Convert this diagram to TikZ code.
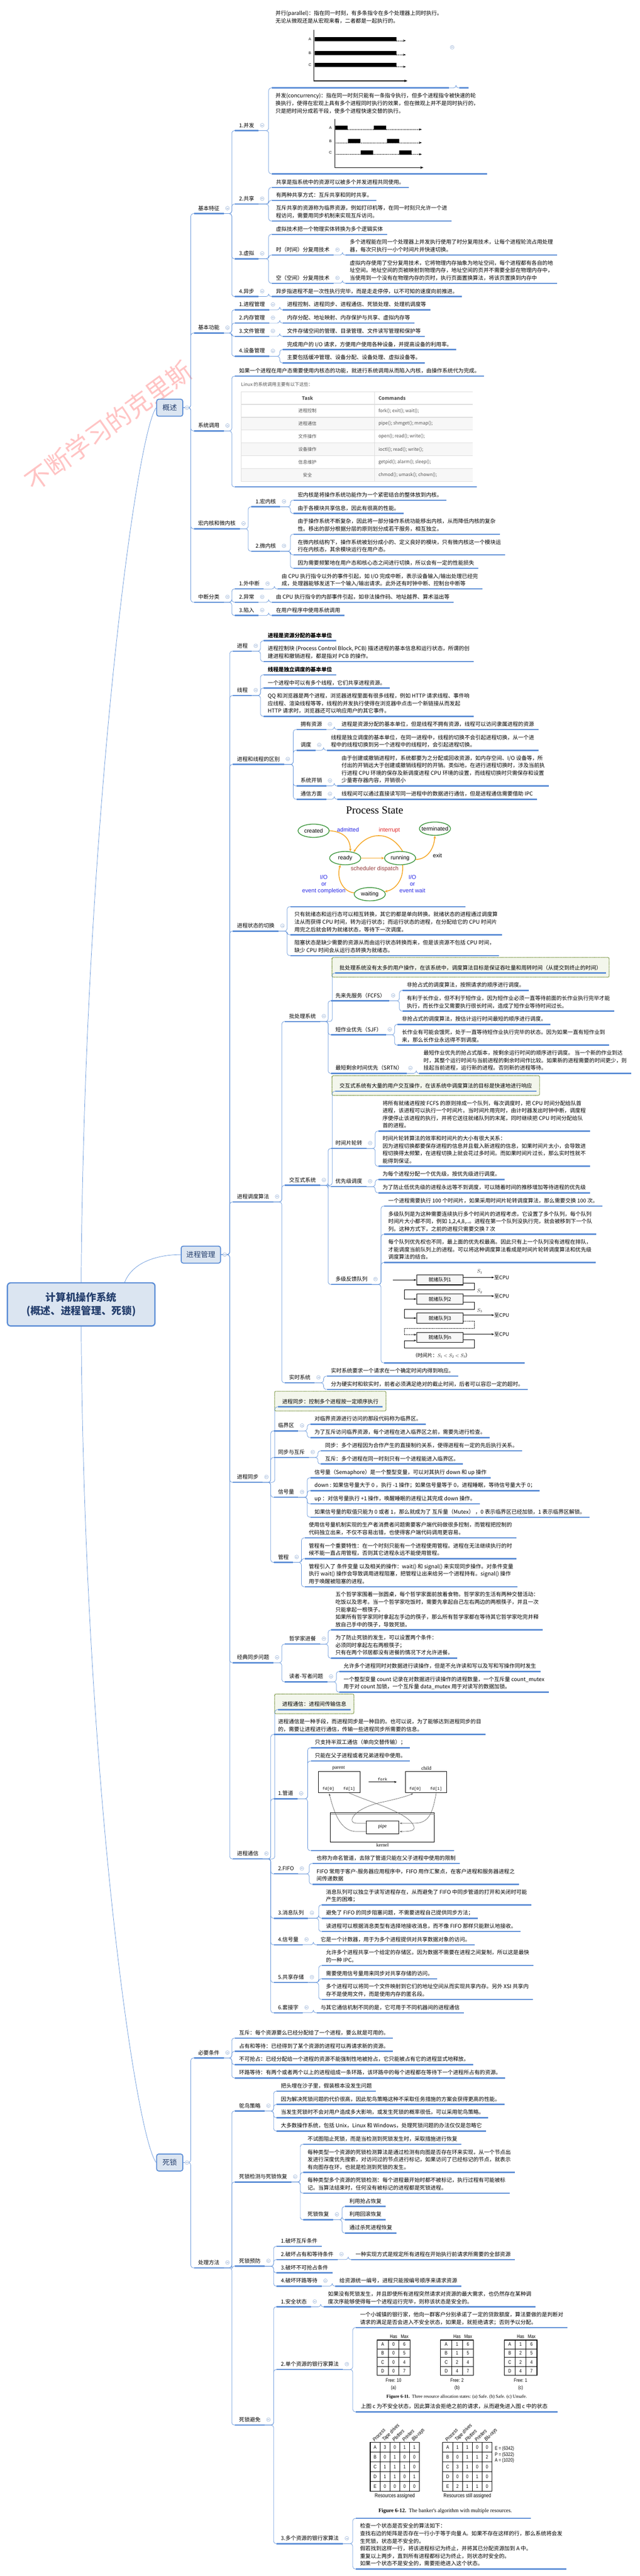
\documentclass[tikz,border=0pt]{standalone}
\usepackage{fontspec}
\setmainfont{Noto Sans CJK SC}
\newfontfamily\enserif{Liberation Serif}
\newfontfamily\ensans{Liberation Sans}
\newfontfamily\ensansn[FakeStretch=0.82]{Liberation Sans}
\newfontfamily\enmono{Liberation Mono}
\usetikzlibrary{positioning, arrows.meta, shapes.geometric, backgrounds}

\definecolor{ulc}{RGB}{91,141,214}
\definecolor{connc}{RGB}{96,146,218}
\definecolor{foldc}{RGB}{150,176,214}
\definecolor{boxfill}{RGB}{219,229,241}
\definecolor{boxtext}{RGB}{38,64,110}
\definecolor{dashc}{RGB}{118,146,60}
\definecolor{dashfill}{RGB}{243,246,236}
\definecolor{tabline}{RGB}{221,221,221}
\definecolor{tabfill}{RGB}{247,247,247}
\definecolor{tabtext}{RGB}{85,85,85}
\definecolor{stgreen}{RGB}{60,150,60}
\definecolor{storange}{RGB}{245,166,35}
\definecolor{psblue}{RGB}{40,40,230}
\definecolor{psred}{RGB}{225,40,40}
\definecolor{psbrown}{RGB}{150,60,60}
\definecolor{wmred}{RGB}{255,196,196}

\newcommand{\ml}[1]{\begin{tabular}[t]{@{}l@{}}#1\end{tabular}}

\tikzset{
  uline/.style={draw=ulc, line width=3.2pt}, % thick bar under every topic
  topic/.style={anchor=south west, inner xsep=10pt, inner ysep=2.5pt, font=\fontsize{12.9}{18.1}\selectfont},
  imgtopic/.style={topic, minimum width=#1*0.989pt, minimum height=24pt}, % topic holding a picture
  txt/.style={anchor=base west, inner sep=0pt, font=\fontsize{12.9}{18.1}\selectfont},
  conn/.style={draw=connc, line width=0.9pt, rounded corners=6pt},
  branch/.style={to path={(\tikztostart) -| ([xshift=-7.5pt]\tikztotarget) -- (\tikztotarget)}},
  fold/.style={circle, draw=foldc, line width=0.7pt, minimum size=9pt, inner sep=0pt, fill=white,
    path picture={\draw[foldc, line width=0.7pt] ([xshift=-2.5pt]path picture bounding box.center) -- ([xshift=2.5pt]path picture bounding box.center);}},
  mainbox/.style={draw=ulc, line width=2.2pt, fill=boxfill, rounded corners=5pt, minimum width=63pt,
    minimum height=41pt, text=boxtext, font=\fontsize{17.5}{20}\selectfont},
  rootbox/.style={draw=ulc, line width=3pt, fill=boxfill, rounded corners=8pt, minimum width=356pt,
    minimum height=104pt, text=boxtext, align=center, font=\fontsize{24.5}{32}\selectfont\bfseries},
  dashbox/.style={draw=dashc, line width=1.8pt, dash pattern=on 1.6pt off 1pt, fill=dashfill, rounded corners=3pt},
  watermark/.style={rotate=36, text=wmred, font=\fontsize{60}{60}\selectfont},
  axis/.style={line width=1.3pt},
  chartlbl/.style={inner sep=0pt, font=\ensans\fontsize{9}{9}\selectfont},
  tabcell/.style={inner sep=0pt, text=tabtext, font=\fontsize{11}{13}\selectfont},
  pstate/.style={ellipse, draw=stgreen, line width=1.8pt, minimum width=75pt, minimum height=32pt,
    inner sep=0pt, fill=white, font=\ensans\fontsize{13.6}{14}\selectfont},
  parrow/.style={draw=storange, line width=1.9pt, -{Stealth[length=7pt,width=6pt]}},
  pslbl/.style={inner sep=0pt, align=center, font=\ensans\fontsize{13.8}{16}\selectfont},
  qbox/.style={draw, line width=1.3pt, minimum width=112pt, minimum height=24pt, inner sep=0pt,
    fill=gray!6, font=\fontsize{12}{12}\selectfont},
  qarrow/.style={line width=0.9pt, -{Stealth[length=6pt,width=4.5pt]}},
  qlbl/.style={inner sep=0pt, font=\fontsize{12}{12}\selectfont},
  pbox/.style={draw, line width=1pt, inner sep=0pt},
  pline/.style={draw=black!65, line width=0.8pt},
  plbl/.style={inner sep=0pt, font=\enserif\fontsize{12}{12}\selectfont},
  fdlbl/.style={inner sep=0pt, font=\enmono\fontsize{9.5}{10}\selectfont},
  figlbl/.style={inner sep=0pt, font=\ensansn\fontsize{12}{12}\selectfont},
  fighd/.style={inner sep=0pt, anchor=west, rotate=45, font=\ensansn\itshape\fontsize{12.5}{12.5}\selectfont},
  figcap/.style={inner sep=0pt, font=\enserif\fontsize{11}{12}\selectfont},
}

\begin{document}
\begin{tikzpicture}[x=0.989pt, y=-1pt]
\useasboundingbox (0,0) rectangle (1560,6211);
\begin{scope}[on background layer]
  \fill[white] (0,0) rectangle (1560,6211);
\end{scope}
\node[watermark] (wm) at (265,1027) {不断学习的克里斯};

% root and the three branches
\node[rootbox] (root) at (198,3145) {计算机操作系统\\(概述、进程管理、死锁)};
\node[mainbox] (gs) at (414,983) {概述};
\node[mainbox, minimum width=95pt] (jc) at (490,3025) {进程管理};
\node[mainbox] (sl) at (414,5214) {死锁};

% ---------- 概述 ----------
\node[topic] (a1) at (473,515) {\ml{基本特征}};
\node[topic] (a2) at (473,803) {\ml{基本功能}};
\node[topic] (a3) at (473,1039) {\ml{系统调用}};
\node[topic] (a4) at (473,1275) {\ml{宏内核和微内核}};
\node[topic] (a5) at (473,1452) {\ml{中断分类}};

\node[topic] (a11) at (573,315) {\ml{1.并发}};
\node[topic] (a12) at (573,492) {\ml{2.共享}};
\node[topic] (a13) at (573,624) {\ml{3.虚拟}};
\node[topic] (a14) at (573,715) {\ml{4.异步}};

\node[imgtopic=432] (a111) at (663,212) {};
\node[imgtopic=23] (a1111) at (1120,212) {};
\node[txt] (a111t) at (672,37) {\ml{并行(parallel)：指在同一时刻，有多条指令在多个处理器上同时执行。\\无论从微观还是从宏观来看，二者都是一起执行的。}};
\draw[axis] (765,72) -- (765,195);
\draw[axis, -{Stealth[length=8pt,width=6pt]}] (765,195) -- (994,195);
\foreach \r/\yy in {A/94,B/128,C/157} {
  \fill (767,\yy-5) rectangle (967,\yy+5);
  \draw[densely dotted, line width=0.9pt, -{Stealth[length=7pt,width=5pt]}] (967,\yy+4) -- (990,\yy+4);
  \node[chartlbl] (par\r) at (756,\yy) {\r};
}
\node[imgtopic=525] (a112) at (663,419) {};
\node[txt] (a112t) at (672,236) {\ml{并发(concurrency)：指在同一时刻只能有一条指令执行，但多个进程指令被快速的轮\\换执行，使得在宏观上具有多个进程同时执行的效果，但在微观上并不是同时执行的，\\只是把时间分成若干段，使多个进程快速交替的执行。}};
\draw[axis] (817,287) -- (817,404);
\draw[axis, -{Stealth[length=8pt,width=6pt]}] (817,404) -- (1033,404);
\foreach \r/\yy/\xa/\xb in {A/308/818/912, B/340/849/944, C/368/880/974} {
  \draw[densely dotted, line width=0.9pt, -{Stealth[length=7pt,width=5pt]}] (817,\yy+4) -- (1029,\yy+4);
  \fill (\xa,\yy-5) rectangle (\xa+30,\yy+5) (\xb,\yy-5) rectangle (\xb+30,\yy+5);
  \node[chartlbl] (con\r) at (806,\yy) {\r};
}
\node[topic] (a121) at (663,452) {\ml{共享是指系统中的资源可以被多个并发进程共同使用。}};
\node[topic] (a122) at (663,483) {\ml{有两种共享方式：互斥共享和同时共享。}};
\node[topic] (a123) at (663,533) {\ml{互斥共享的资源称为临界资源，例如打印机等，在同一时刻只允许一个进\\程访问，需要用同步机制来实现互斥访问。}};
\node[topic] (a131) at (663,565) {\ml{虚拟技术把一个物理实体转换为多个逻辑实体}};
\node[topic] (a132) at (663,615) {\ml{时（时间）分复用技术}};
\node[topic] (a133) at (663,683) {\ml{空（空间）分复用技术}};
\node[topic] (a1321) at (843,615) {\ml{多个进程能在同一个处理器上并发执行使用了时分复用技术，让每个进程轮流占用处理\\器，每次只执行一小个时间片并快速切换。}};
\node[topic] (a1331) at (843,683) {\ml{虚拟内存使用了空分复用技术，它将物理内存抽象为地址空间，每个进程都有各自的地\\址空间。地址空间的页被映射到物理内存，地址空间的页并不需要全部在物理内存中，\\当使用到一个没有在物理内存的页时，执行页面置换算法，将该页置换到内存中}};
\node[topic] (a141) at (663,715) {\ml{异步指进程不是一次性执行完毕，而是走走停停，以不可知的速度向前推进。}};

\node[topic] (a21) at (573,747) {\ml{1.进程管理}};
\node[topic] (a22) at (573,779) {\ml{2.内存管理}};
\node[topic] (a23) at (573,811) {\ml{3.文件管理}};
\node[topic] (a24) at (573,859) {\ml{4.设备管理}};
\node[topic] (a211) at (690,747) {\ml{进程控制、进程同步、进程通信、死锁处理、处理机调度等}};
\node[topic] (a221) at (690,779) {\ml{内存分配、地址映射、内存保护与共享、虚拟内存等}};
\node[topic] (a231) at (690,811) {\ml{文件存储空间的管理、目录管理、文件读写管理和保护等}};
\node[topic] (a241) at (690,843) {\ml{完成用户的 I/O 请求，方便用户使用各种设备，并提高设备的利用率。}};
\node[topic] (a242) at (690,875) {\ml{主要包括缓冲管理、设备分配、设备处理、虚拟设备等。}};

\node[topic] (a31) at (573,907) {\ml{如果一个进程在用户态需要使用内核态的功能，就进行系统调用从而陷入内核，由操作系统代为完成。}};
\node[imgtopic=590] (a32) at (573,1174) {};
\node[tabcell, anchor=base west] (a32t) at (588,931) {Linux 的系统调用主要有以下这些：};
\fill[tabfill] (588,1006) rectangle (1153,1037) (588,1068) rectangle (1153,1099) (588,1130) rectangle (1153,1161);
\foreach \yy in {945,975,1006,1037,1068,1099,1130,1161}
  \draw[tabline, line width=1.6pt] (588,\yy) -- (1153,\yy);
\draw[tabline, line width=0.8pt] (588,945) -- (588,1161) (913,945) -- (913,1161);
\node[tabcell, font=\fontsize{11.5}{13}\selectfont\bfseries] (th1) at (750,960) {Task};
\node[tabcell, anchor=west, font=\fontsize{11.5}{13}\selectfont\bfseries] (th2) at (923,960) {Commands};
\node[tabcell] (tr1) at (750,990.5) {进程控制};
\node[tabcell, anchor=west] (tc1) at (923,990.5) {fork(); exit(); wait();};
\node[tabcell] (tr2) at (750,1021.5) {进程通信};
\node[tabcell, anchor=west] (tc2) at (923,1021.5) {pipe(); shmget(); mmap();};
\node[tabcell] (tr3) at (750,1052.5) {文件操作};
\node[tabcell, anchor=west] (tc3) at (923,1052.5) {open(); read(); write();};
\node[tabcell] (tr4) at (750,1083.5) {设备操作};
\node[tabcell, anchor=west] (tc4) at (923,1083.5) {ioctl(); read(); write();};
\node[tabcell] (tr5) at (750,1114.5) {信息维护};
\node[tabcell, anchor=west] (tc5) at (923,1114.5) {getpid(); alarm(); sleep();};
\node[tabcell] (tr6) at (750,1145.5) {安全};
\node[tabcell, anchor=west] (tc6) at (923,1145.5) {chmod(); umask(); chown();};

\node[topic] (a41) at (613,1222) {\ml{1.宏内核}};
\node[topic] (a42) at (613,1329) {\ml{2.微内核}};
\node[topic] (a411) at (716,1206) {\ml{宏内核是将操作系统功能作为一个紧密结合的整体放到内核。}};
\node[topic] (a412) at (716,1238) {\ml{由于各模块共享信息，因此有很高的性能。}};
\node[topic] (a421) at (716,1288) {\ml{由于操作系统不断复杂，因此将一部分操作系统功能移出内核，从而降低内核的复杂\\性。移出的部分根据分层的原则划分成若干服务，相互独立。}};
\node[topic] (a422) at (716,1338) {\ml{在微内核结构下，操作系统被划分成小的、定义良好的模块，只有微内核这一个模块运\\行在内核态，其余模块运行在用户态。}};
\node[topic] (a423) at (716,1370) {\ml{因为需要频繁地在用户态和核心态之间进行切换，所以会有一定的性能损失}};

\node[topic] (a51) at (573,1420) {\ml{1.外中断}};
\node[topic] (a52) at (573,1452) {\ml{2.异常}};
\node[topic] (a53) at (573,1484) {\ml{3.陷入}};
\node[topic] (a511) at (677,1420) {\ml{由 CPU 执行指令以外的事件引起，如 I/O 完成中断，表示设备输入/输出处理已经完\\成，处理器能够发送下一个输入/输出请求。此外还有时钟中断、控制台中断等}};
\node[topic] (a521) at (663,1452) {\ml{由 CPU 执行指令的内部事件引起，如非法操作码、地址越界、算术溢出等}};
\node[topic] (a531) at (663,1484) {\ml{在用户程序中使用系统调用}};

% ---------- 进程管理 ----------
\node[topic] (b1) at (568,1570) {\ml{进程}};
\node[topic] (b2) at (568,1677) {\ml{线程}};
\node[topic] (b3) at (568,1843) {\ml{进程和线程的区别}};
\node[topic] (b4) at (568,2245) {\ml{进程状态的切换}};
\node[topic] (b5) at (568,2898) {\ml{进程调度算法}};
\node[topic] (b6) at (568,3574) {\ml{进程同步}};
\node[topic] (b7) at (568,4009) {\ml{经典同步问题}};
\node[topic] (b8) at (568,4482) {\ml{进程通信}};

\node[topic] (b11) at (643,1545) {\ml{\textbf{进程是资源分配的基本单位}}};
\node[topic] (b12) at (643,1595) {\ml{进程控制块 (Process Control Block, PCB) 描述进程的基本信息和运行状态，所谓的创\\建进程和撤销进程，都是指对 PCB 的操作。}};
\node[topic] (b21) at (643,1627) {\ml{\textbf{线程是独立调度的基本单位}}};
\node[topic] (b22) at (643,1659) {\ml{一个进程中可以有多个线程，它们共享进程资源。}};
\node[topic] (b23) at (643,1727) {\ml{QQ 和浏览器是两个进程，浏览器进程里面有很多线程，例如 HTTP 请求线程、事件响\\应线程、渲染线程等等，线程的并发执行使得在浏览器中点击一个新链接从而发起\\HTTP 请求时，浏览器还可以响应用户的其它事件。}};

\node[topic] (b31) at (723,1759) {\ml{拥有资源}};
\node[topic] (b32) at (723,1809) {\ml{调度}};
\node[topic] (b33) at (723,1895) {\ml{系统开销}};
\node[topic] (b34) at (723,1927) {\ml{通信方面}};
\node[topic] (b311) at (823,1759) {\ml{进程是资源分配的基本单位，但是线程不拥有资源，线程可以访问隶属进程的资源}};
\node[topic] (b321) at (797,1809) {\ml{线程是独立调度的基本单位，在同一进程中，线程的切换不会引起进程切换，从一个进\\程中的线程切换到另一个进程中的线程时，会引起进程切换。}};
\node[topic] (b331) at (823,1895) {\ml{由于创建或撤销进程时，系统都要为之分配或回收资源，如内存空间、I/O 设备等，所\\付出的开销远大于创建或撤销线程时的开销。类似地，在进行进程切换时，涉及当前执\\行进程 CPU 环境的保存及新调度进程 CPU 环境的设置，而线程切换时只需保存和设置\\少量寄存器内容，开销很小}};
\node[topic] (b341) at (823,1927) {\ml{线程间可以通过直接读写同一进程中的数据进行通信，但是进程通信需要借助 IPC}};

\node[imgtopic=427] (b41) at (708,2186) {};
\node[inner sep=0pt, font=\enserif\fontsize{26}{26}\selectfont] (pst) at (914,1953) {Process State};
\node[pstate] (created) at (765,2003) {\makebox[0pt]{created}};
\node[pstate] (terminated) at (1061,1998) {\makebox[0pt]{terminated}};
\node[pstate] (ready) at (842,2069) {\makebox[0pt]{ready}};
\node[pstate] (running) at (976,2069) {\makebox[0pt]{running}};
\node[pstate] (waiting) at (902,2156) {\makebox[0pt]{waiting}};
\draw[parrow] (created.east) .. controls +(35,2) and +(0,-30) .. (ready.52);
\draw[parrow] (running.70) .. controls (950,2000) and (895,2005) .. (ready.35);
\draw[parrow] (ready.east) -- (running.west);
\draw[parrow] (running.-5) .. controls (1040,2072) and (1058,2050) .. (terminated.south);
\draw[parrow] (running.-70) .. controls (985,2120) and (965,2145) .. (waiting.10);
\draw[parrow] (waiting.175) .. controls (835,2150) and (820,2115) .. (ready.-125);
\node[pslbl, text=psblue] (adm) at (849,2001) {admitted};
\node[pslbl, text=psred] (intr) at (950,2002) {interrupt};
\node[pslbl] (ext) at (1067,2063) {exit};
\node[pslbl, text=psbrown] (sched) at (914,2095) {scheduler dispatch};
\node[pslbl, text=psblue] (ioc) at (790,2132) {I/O\\or\\event completion};
\node[pslbl, text=psblue] (iow) at (1006,2131) {I/O\\or\\event wait};
\node[topic] (b42) at (708,2254) {\ml{只有就绪态和运行态可以相互转换，其它的都是单向转换。就绪状态的进程通过调度算\\法从而获得 CPU 时间，转为运行状态；而运行状态的进程，在分配给它的 CPU 时间片\\用完之后就会转为就绪状态，等待下一次调度。}};
\node[topic] (b43) at (708,2304) {\ml{阻塞状态是缺少需要的资源从而由运行状态转换而来，但是该资源不包括 CPU 时间，\\缺少 CPU 时间会从运行态转换为就绪态。}};

\node[topic] (b51) at (695,2463) {\ml{批处理系统}};
\node[topic] (b52) at (695,2858) {\ml{交互式系统}};
\node[topic] (b53) at (695,3334) {\ml{实时系统}};
\node[topic] (b510) at (818,2346) {\ml{批处理系统没有太多的用户操作，在该系统中，调度算法目标是保证吞吐量和周转时间（从提交到终止的时间）}};
\node[topic] (b511) at (808,2413) {\ml{先来先服务（FCFS）}};
\node[topic] (b512) at (808,2495) {\ml{短作业优先（SJF）}};
\node[topic] (b513) at (808,2588) {\ml{最短剩余时间优先（SRTN）}};
\node[topic] (b5111) at (982,2388) {\ml{非抢占式的调度算法，按照请求的顺序进行调度。}};
\node[topic] (b5112) at (982,2438) {\ml{有利于长作业，但不利于短作业，因为短作业必须一直等待前面的长作业执行完毕才能\\执行，而长作业又需要执行很长时间，造成了短作业等待时间过长。}};
\node[topic] (b5121) at (970,2470) {\ml{非抢占式的调度算法，按估计运行时间最短的顺序进行调度。}};
\node[topic] (b5122) at (970,2520) {\ml{长作业有可能会饿死，处于一直等待短作业执行完毕的状态。因为如果一直有短作业到\\来，那么长作业永远得不到调度。}};
\node[topic] (b5131) at (1023,2588) {\ml{最短作业优先的抢占式版本，按剩余运行时间的顺序进行调度。 当一个新的作业到达\\时，其整个运行时间与当前进程的剩余时间作比较。如果新的进程需要的时间更少，则\\挂起当前进程，运行新的进程。否则新的进程等待。}};

\node[topic] (b520) at (818,2631) {\ml{交互式系统有大量的用户交互操作，在该系统中调度算法的目标是快速地进行响应}};
\node[topic] (b521) at (808,2769) {\ml{时间片轮转}};
\node[topic] (b522) at (808,2861) {\ml{优先级调度}};
\node[topic] (b523) at (808,3097) {\ml{多级反馈队列}};
\node[topic] (b5211) at (923,2727) {\ml{将所有就绪进程按 FCFS 的原则排成一个队列，每次调度时，把 CPU 时间分配给队首\\进程，该进程可以执行一个时间片。当时间片用完时，由计时器发出时钟中断，调度程\\序便停止该进程的执行，并将它送往就绪队列的末尾，同时继续把 CPU 时间分配给队\\首的进程。}};
\node[topic] (b5212) at (923,2812) {\ml{时间片轮转算法的效率和时间片的大小有很大关系：\\因为进程切换都要保存进程的信息并且载入新进程的信息，如果时间片太小，会导致进\\程切换得太频繁，在进程切换上就会花过多时间。而如果时间片过长，那么实时性就不\\能得到保证。}};
\node[topic] (b5221) at (923,2844) {\ml{为每个进程分配一个优先级，按优先级进行调度。}};
\node[topic] (b5222) at (923,2876) {\ml{为了防止低优先级的进程永远等不到调度，可以随着时间的推移增加等待进程的优先级}};
\node[topic] (b5231) at (937,2908) {\ml{一个进程需要执行 100 个时间片，如果采用时间片轮转调度算法，那么需要交换 100 次。}};
\node[topic] (b5232) at (937,2976) {\ml{多级队列是为这种需要连续执行多个时间片的进程考虑，它设置了多个队列，每个队列\\时间片大小都不同，例如 1,2,4,8,..。进程在第一个队列没执行完，就会被移到下一个队\\列。这种方式下，之前的进程只需要交换 7 次}};
\node[topic] (b5233) at (937,3044) {\ml{每个队列优先权也不同，最上面的优先权最高。因此只有上一个队列没有进程在排队，\\才能调度当前队列上的进程。可以将这种调度算法看成是时间片轮转调度算法和优先级\\调度算法的结合。}};
\node[imgtopic=343] (b5234) at (937,3286) {};
\node[qbox] (q1) at (1073,3086) {就绪队列1};
\node[qbox] (q2) at (1073,3132) {就绪队列2};
\node[qbox] (q3) at (1073,3178) {就绪队列3};
\node[qbox] (qn) at (1073,3225) {就绪队列\textit{n}};
\draw[qarrow] ([xshift=-57pt]q1.west) -- (q1.west);
\draw[qarrow] ([yshift=6pt]q1.east) -- ++(75,0) node[qlbl, anchor=west] (cpu1) {至CPU};
\draw[qarrow] ([yshift=7pt]q2.east) -- ++(75,0) node[qlbl, anchor=west] (cpu2) {至CPU};
\draw[qarrow] ([yshift=7pt]q3.east) -- ++(75,0) node[qlbl, anchor=west] (cpu3) {至CPU};
\draw[qarrow] ([yshift=8pt]qn.east) -- ++(75,0) node[qlbl, anchor=west] (cpun) {至CPU};
\draw[qarrow] ([yshift=-7pt]q1.east) -- ++(27,0) -- ++(0,17) -| ([xshift=-29pt]q2.west) -- (q2.west);
\draw[qarrow] ([yshift=-7pt]q2.east) -- ++(27,0) -- ++(0,18) -| ([xshift=-29pt]q3.west) -- (q3.west);
\draw[qarrow, densely dotted] ([yshift=-7pt]q3.east) -- ++(27,0) -- ++(0,18) -| ([xshift=-29pt,yshift=7pt]qn.west) -- ([yshift=7pt]qn.west);
\draw[qarrow] ([yshift=-5pt]qn.east) -- ++(27,0) -- ++(0,20) -| ([xshift=-29pt,yshift=-7pt]qn.west) -- ([yshift=-7pt]qn.west);
\node[qlbl] (s1) at (1170,3066) {$S_1$};
\node[qlbl] (s2) at (1170,3113) {$S_2$};
\node[qlbl] (s3) at (1170,3160) {$S_3$};
\node[qlbl] (qcap) at (1077,3268) {（时间片：$S_1<S_2<S_3$）};
\node[topic] (b531) at (797,3318) {\ml{实时系统要求一个请求在一个确定时间内得到响应。}};
\node[topic] (b532) at (797,3350) {\ml{分为硬实时和软实时，前者必须满足绝对的截止时间，后者可以容忍一定的超时。}};

\node[topic] (b60) at (678,3392) {\ml{进程同步：控制多个进程按一定顺序执行}};
\node[topic] (b61) at (668,3450) {\ml{临界区}};
\node[topic] (b62) at (668,3514) {\ml{同步与互斥}};
\node[topic] (b63) at (668,3610) {\ml{信号量}};
\node[topic] (b64) at (668,3767) {\ml{管程}};
\node[topic] (b611) at (757,3434) {\ml{对临界资源进行访问的那段代码称为临界区。}};
\node[topic] (b612) at (757,3466) {\ml{为了互斥访问临界资源，每个进程在进入临界区之前，需要先进行检查。}};
\node[topic] (b621) at (783,3498) {\ml{同步：多个进程因为合作产生的直接制约关系，使得进程有一定的先后执行关系。}};
\node[topic] (b622) at (783,3530) {\ml{互斥：多个进程在同一时刻只有一个进程能进入临界区。}};
\node[topic] (b631) at (757,3563) {\ml{信号量（Semaphore）是一个整型变量，可以对其执行 down 和 up 操作}};
\node[topic] (b632) at (757,3594) {\ml{down : 如果信号量大于 0 ，执行 -1 操作；如果信号量等于 0，进程睡眠，等待信号量大于 0；}};
\node[topic] (b633) at (757,3626) {\ml{up ：对信号量执行 +1 操作，唤醒睡眠的进程让其完成 down 操作。}};
\node[topic] (b634) at (757,3658) {\ml{如果信号量的取值只能为 0 或者 1，那么就成为了 互斥量（Mutex） ，0 表示临界区已经加锁，1 表示临界区解锁。}};
\node[topic] (b641) at (743,3708) {\ml{使用信号量机制实现的生产者消费者问题需要客户端代码做很多控制，而管程把控制的\\代码独立出来，不仅不容易出错，也使得客户端代码调用更容易。}};
\node[topic] (b642) at (743,3758) {\ml{管程有一个重要特性：在一个时刻只能有一个进程使用管程。进程在无法继续执行的时\\候不能一直占用管程，否则其它进程永远不能使用管程。}};
\node[topic] (b643) at (743,3826) {\ml{管程引入了 条件变量 以及相关的操作：wait() 和 signal() 来实现同步操作。对条件变量\\执行 wait() 操作会导致调用进程阻塞，把管程让出来给另一个进程持有。signal() 操作\\用于唤醒被阻塞的进程。}};

\node[topic] (b71) at (695,3964) {\ml{哲学家进餐}};
\node[topic] (b72) at (695,4055) {\ml{读者-写者问题}};
\node[topic] (b711) at (808,3930) {\ml{五个哲学家围着一张圆桌，每个哲学家面前放着食物。哲学家的生活有两种交替活动：\\吃饭以及思考。当一个哲学家吃饭时，需要先拿起自己左右两边的两根筷子，并且一次\\只能拿起一根筷子。\\如果所有哲学家同时拿起左手边的筷子，那么所有哲学家都在等待其它哲学家吃完并释\\放自己手中的筷子，导致死锁。}};
\node[topic] (b712) at (808,3998) {\ml{为了防止死锁的发生，可以设置两个条件：\\必须同时拿起左右两根筷子；\\只有在两个邻居都没有进餐的情况下才允许进餐。}};
\node[topic] (b721) at (828,4030) {\ml{允许多个进程同时对数据进行读操作，但是不允许读和写以及写和写操作同时发生}};
\node[topic] (b722) at (828,4080) {\ml{一个整型变量 count 记录在对数据进行读操作的进程数量，一个互斥量 count\_mutex\\用于对 count 加锁，一个互斥量 data\_mutex 用于对读写的数据加锁。}};

\node[topic] (b80) at (678,4122) {\ml{进程通信：进程间传输信息}};
\node[topic] (b81) at (668,4182) {\ml{进程通信是一种手段，而进程同步是一种目的。也可以说，为了能够达到进程同步的目\\的，需要让进程进行通信，传输一些进程同步所需要的信息。}};
\node[topic] (b82) at (668,4337) {\ml{1.管道}};
\node[topic] (b83) at (668,4518) {\ml{2.FIFO}};
\node[topic] (b84) at (668,4625) {\ml{3.消息队列}};
\node[topic] (b85) at (668,4689) {\ml{4.信号量}};
\node[topic] (b86) at (668,4780) {\ml{5.共享存储}};
\node[topic] (b87) at (668,4853) {\ml{6.套接字}};
\node[topic] (b821) at (758,4214) {\ml{只支持半双工通信（单向交替传输）；}};
\node[topic] (b822) at (758,4246) {\ml{只能在父子进程或者兄弟进程中使用。}};
\node[imgtopic=350] (b823) at (758,4462) {};
\node[pbox, minimum width=100pt, minimum height=51pt] (parent) at (827.5,4296.5) {};
\node[pbox, minimum width=100pt, minimum height=51pt] (child) at (1039,4296.5) {};
\node[plbl] (parlbl) at (826,4263) {parent};
\node[plbl] (chllbl) at (1040,4263) {child};
\draw[-{Stealth[length=6pt,width=5pt]}, line width=0.9pt] ([xshift=20pt]parent.east) -- ([xshift=-20pt]child.west) node[midway, above=2pt, fdlbl] (fork) {fork};
\node[fdlbl] (pfd0) at (801,4314) {fd[0]};
\node[fdlbl] (pfd1) at (852,4314) {fd[1]};
\node[fdlbl] (cfd0) at (1013,4314) {fd[0]};
\node[fdlbl] (cfd1) at (1064,4314) {fd[1]};
\node[pbox, minimum width=251pt, minimum height=70pt] (kernel) at (933,4406) {};
\draw[black!50, line width=0.8pt] (806,4374) -- (1060,4374);
\node[plbl] (kerlbl) at (933,4449) {kernel};
\node[pbox, minimum width=79pt, minimum height=31pt, fill=white] (pipe) at (933,4405.5) {};
\node[plbl] (pipelbl) at (933,4404) {pipe};
\draw[pline, -{Stealth[length=6pt,width=4pt]}] (852,4323) .. controls (900,4345) and (1000,4370) .. (1010,4405) .. controls (1012,4414) and (1000,4416) .. (975,4416);
\draw[pline, -{Stealth[length=6pt,width=4pt]}] (893,4396) -- (870,4396) .. controls (845,4396) and (860,4360) .. (933,4345) .. controls (970,4337) and (995,4330) .. (1008,4324);
\draw[pline, -{Stealth[length=6pt,width=4pt]}] (893,4416) -- (870,4416) .. controls (830,4416) and (815,4370) .. (803,4324);
\draw[pline, -{Stealth[length=6pt,width=4pt]}] (1064,4323) .. controls (1055,4375) and (1045,4396) .. (1010,4396) -- (975,4396);
\node[topic] (b831) at (762,4493) {\ml{也称为命名管道，去除了管道只能在父子进程中使用的限制}};
\node[topic] (b832) at (762,4543) {\ml{FIFO 常用于客户-服务器应用程序中，FIFO 用作汇聚点，在客户进程和服务器进程之\\间传递数据}};
\node[topic] (b841) at (785,4593) {\ml{消息队列可以独立于读写进程存在，从而避免了 FIFO 中同步管道的打开和关闭时可能\\产生的困难；}};
\node[topic] (b842) at (785,4625) {\ml{避免了 FIFO 的同步阻塞问题，不需要进程自己提供同步方法；}};
\node[topic] (b843) at (785,4657) {\ml{读进程可以根据消息类型有选择地接收消息，而不像 FIFO 那样只能默认地接收。}};
\node[topic] (b851) at (772,4689) {\ml{它是一个计数器，用于为多个进程提供对共享数据对象的访问。}};
\node[topic] (b861) at (785,4739) {\ml{允许多个进程共享一个给定的存储区。因为数据不需要在进程之间复制，所以这是最快\\的一种 IPC。}};
\node[topic] (b862) at (785,4771) {\ml{需要使用信号量用来同步对共享存储的访问。}};
\node[topic] (b863) at (785,4821) {\ml{多个进程可以将同一个文件映射到它们的地址空间从而实现共享内存。另外 XSI 共享内\\存不是使用文件，而是使用内存的匿名段。}};
\node[topic] (b871) at (772,4853) {\ml{与其它通信机制不同的是，它可用于不同机器间的进程通信}};

% ---------- 死锁 ----------
\node[topic] (c1) at (473,4962) {\ml{必要条件}};
\node[topic] (c2) at (473,5468) {\ml{处理方法}};
\node[topic] (c11) at (573,4914) {\ml{互斥：每个资源要么已经分配给了一个进程，要么就是可用的。}};
\node[topic] (c12) at (573,4946) {\ml{占有和等待：已经得到了某个资源的进程可以再请求新的资源。}};
\node[topic] (c13) at (573,4978) {\ml{不可抢占：已经分配给一个进程的资源不能强制性地被抢占，它只能被占有它的进程显式地释放。}};
\node[topic] (c14) at (573,5010) {\ml{环路等待：有两个或者两个以上的进程组成一条环路，该环路中的每个进程都在等待下一个进程所占有的资源。}};
\node[topic] (c21) at (573,5090) {\ml{鸵鸟策略}};
\node[topic] (c22) at (573,5261) {\ml{死锁检测与死锁恢复}};
\node[topic] (c23) at (573,5464) {\ml{死锁预防}};
\node[topic] (c24) at (573,5847) {\ml{死锁避免}};
\node[topic] (c211) at (675,5042) {\ml{把头埋在沙子里，假装根本没发生问题}};
\node[topic] (c212) at (675,5074) {\ml{因为解决死锁问题的代价很高，因此鸵鸟策略这种不采取任务措施的方案会获得更高的性能。}};
\node[topic] (c213) at (675,5106) {\ml{当发生死锁时不会对用户造成多大影响，或发生死锁的概率很低，可以采用鸵鸟策略。}};
\node[topic] (c214) at (675,5138) {\ml{大多数操作系统，包括 Unix，Linux 和 Windows，处理死锁问题的办法仅仅是忽略它}};
\node[topic] (c221) at (740,5170) {\ml{不试图阻止死锁，而是当检测到死锁发生时，采取措施进行恢复}};
\node[topic] (c222) at (740,5238) {\ml{每种类型一个资源的死锁检测算法是通过检测有向图是否存在环来实现，从一个节点出\\发进行深度优先搜索，对访问过的节点进行标记，如果访问了已经标记的节点，就表示\\有向图存在环，也就是检测到死锁的发生。}};
\node[topic] (c223) at (740,5288) {\ml{每种类型多个资源的死锁检测：每个进程最开始时都不被标记，执行过程有可能被标\\记。当算法结束时，任何没有被标记的进程都是死锁进程。}};
\node[topic] (c225) at (740,5352) {\ml{死锁恢复}};
\node[topic] (c2251) at (842,5320) {\ml{利用抢占恢复}};
\node[topic] (c2252) at (842,5352) {\ml{利用回滚恢复}};
\node[topic] (c2253) at (842,5384) {\ml{通过杀死进程恢复}};
\node[topic] (c231) at (675,5416) {\ml{1.破坏互斥条件}};
\node[topic] (c232) at (675,5448) {\ml{2.破坏占有和等待条件}};
\node[topic] (c233) at (675,5480) {\ml{3.破坏不可抢占条件}};
\node[topic] (c234) at (675,5512) {\ml{4.破坏环路等待}};
\node[topic] (c2321) at (857,5448) {\ml{一种实现方式是规定所有进程在开始执行前请求所需要的全部资源}};
\node[topic] (c2341) at (818,5512) {\ml{给资源统一编号，进程只能按编号顺序来请求资源}};
\node[topic] (c241) at (675,5562) {\ml{1.安全状态}};
\node[topic] (c242) at (675,5713) {\ml{2.单个资源的银行家算法}};
\node[topic] (c243) at (675,6133) {\ml{3.多个资源的银行家算法}};
\node[topic] (c2411) at (790,5562) {\ml{如果没有死锁发生，并且即使所有进程突然请求对资源的最大需求，也仍然存在某种调\\度次序能够使得每一个进程运行完毕，则称该状态是安全的。}};
\node[topic] (c2421) at (868,5612) {\ml{一个小城镇的银行家，他向一群客户分别承诺了一定的贷款额度，算法要做的是判断对\\请求的满足是否会进入不安全状态，如果是，就拒绝请求；否则予以分配。}};
\node[imgtopic=492] (c2422) at (868,5815) {};
\foreach \tx/\vs [count=\k] in {920/{A/0/6,B/0/5,C/0/4,D/0/7}, 1075/{A/1/6,B/1/5,C/2/4,D/4/7}, 1230/{A/1/6,B/2/5,C/2/4,D/4/7}} {
  \draw[line width=1.5pt] (\tx,5642) rectangle (\tx+80,5727);
  \draw[line width=0.9pt] (\tx+27,5642) -- (\tx+27,5727) (\tx+53,5642) -- (\tx+53,5727);
  \foreach \yy in {5663,5684,5706} \draw[line width=0.9pt] (\tx,\yy) -- (\tx+80,\yy);
  \node[figlbl] (has\k) at (\tx+40,5633) {Has};
  \node[figlbl] (max\k) at (\tx+67,5633) {Max};
  \foreach \r/\h/\m [count=\i] in \vs {
    \node[figlbl] (bk\k-r\i) at (\tx+13.5,5631.2+21.3*\i) {\r};
    \node[figlbl] (bk\k-h\i) at (\tx+40,5631.2+21.3*\i) {\h};
    \node[figlbl] (bk\k-m\i) at (\tx+66.5,5631.2+21.3*\i) {\m};
  }
}
\node[figlbl] (free1) at (960,5739) {Free: 10};
\node[figlbl] (free2) at (1115,5739) {Free: 2};
\node[figlbl] (free3) at (1270,5739) {Free: 1};
\node[figlbl] (sub1) at (960,5757) {(a)};
\node[figlbl] (sub2) at (1115,5757) {(b)};
\node[figlbl] (sub3) at (1270,5757) {(c)};
\node[figcap] (cap611) at (1114,5779) {\textbf{Figure 6-11.}\enspace Three resource allocation states: (a) Safe. (b) Safe. (c) Unsafe.};
\node[txt] (c2422t) at (880,5807) {\ml{上图 c 为不安全状态，因此算法会拒绝之前的请求，从而避免进入图 c 中的状态}};

\node[imgtopic=427] (c2431) at (868,6072) {};
\foreach \tx/\vs [count=\k] in {903/{A/3/0/1/1,B/0/1/0/0,C/1/1/1/0,D/1/1/0/1,E/0/0/0/0}, 1080/{A/1/1/0/0,B/0/1/1/2,C/3/1/0/0,D/0/0/1/0,E/2/1/1/0}} {
  \draw[line width=1.5pt] (\tx,5889) rectangle (\tx+120,6007);
  \foreach \j in {1,...,4} \draw[line width=0.9pt] (\tx+24*\j,5889) -- (\tx+24*\j,6007) (\tx,5889+23.6*\j) -- (\tx+120,5889+23.6*\j);
  \foreach \hd [count=\j] in {Process,Tape drives,Plotters,Printers,Blu-rays}
    \node[fighd] (hd\k-\j) at (\tx+24*\j-16,5884) {\hd};
  \foreach \va/\vb/\vc/\vd/\ve [count=\i] in \vs {
    \foreach \v [count=\j] in {\va,\vb,\vc,\vd,\ve}
      \node[figlbl] (mb\k-\i-\j) at (\tx+24*\j-12,5877.2+23.6*\i) {\v};
  }
}
\node[figlbl, anchor=west] (vecE) at (1207,5904) {E = (6342)};
\node[figlbl, anchor=west] (vecP) at (1207,5919) {P = (5322)};
\node[figlbl, anchor=west] (vecA) at (1207,5933) {A = (1020)};
\node[figlbl, font=\ensansn\fontsize{13}{13}\selectfont] (rasg) at (963,6018) {Resources assigned};
\node[figlbl, font=\ensansn\fontsize{13}{13}\selectfont] (rstl) at (1140,6018) {Resources still assigned};
\node[figcap, font=\enserif\fontsize{13}{14}\selectfont] (cap612) at (1086,6055) {\textbf{Figure 6-12.}\enspace The banker's algorithm with multiple resources.};
\node[topic] (c2432) at (868,6194) {\ml{检查一个状态是否安全的算法如下：\\查找右边的矩阵是否存在一行小于等于向量 A。如果不存在这样的行，那么系统将会发\\生死锁，状态是不安全的。\\假若找到这样一行，将该进程标记为终止，并将其已分配资源加到 A 中。\\重复以上两步，直到所有进程都标记为终止，则状态时安全的。\\如果一个状态不是安全的，需要拒绝进入这个状态。}};

% dashed frames
\begin{scope}[on background layer]
  \foreach \d in {b510,b520,b60,b80}
    \path[dashbox] ([xshift=-8pt,yshift=14pt]\d.north west) rectangle ([xshift=8pt,yshift=-10pt]\d.south east);
\end{scope}

% connectors and underlines
\draw[conn] (root.north) .. controls (205,2000) and (330,1050) .. (gs.west);
\draw[conn] ([xshift=105pt]root.north) .. controls (325,3040) and (390,3025) .. (jc.west);
\draw[conn] (root.south) .. controls (205,4290) and (330,5150) .. (sl.west);
\foreach \p/\c in {gs/a1,gs/a2,gs/a3,gs/a4,gs/a5, jc/b1,jc/b2,jc/b3,jc/b4,jc/b5,jc/b6,jc/b7,jc/b8, sl/c1,sl/c2} {
  \draw[conn] (\p.east) to[branch] (\c.south west);
  \draw[uline] (\c.south west) -- (\c.south east);
}
\foreach \p/\c in {a1/a11,a1/a12,a1/a13,a1/a14, a11/a111,a11/a112, a111/a1111, a12/a121,a12/a122,a12/a123,
    a13/a131,a13/a132,a13/a133, a132/a1321, a133/a1331, a14/a141,
    a2/a21,a2/a22,a2/a23,a2/a24, a21/a211, a22/a221, a23/a231, a24/a241,a24/a242,
    a3/a31,a3/a32, a4/a41,a4/a42, a41/a411,a41/a412, a42/a421,a42/a422,a42/a423,
    a5/a51,a5/a52,a5/a53, a51/a511, a52/a521, a53/a531,
    b1/b11,b1/b12, b2/b21,b2/b22,b2/b23, b3/b31,b3/b32,b3/b33,b3/b34,
    b31/b311, b32/b321, b33/b331, b34/b341, b4/b41,b4/b42,b4/b43,
    b5/b51,b5/b52,b5/b53, b51/b510,b51/b511,b51/b512,b51/b513,
    b511/b5111,b511/b5112, b512/b5121,b512/b5122, b513/b5131,
    b52/b520,b52/b521,b52/b522,b52/b523, b521/b5211,b521/b5212, b522/b5221,b522/b5222,
    b523/b5231,b523/b5232,b523/b5233,b523/b5234, b53/b531,b53/b532,
    b6/b60,b6/b61,b6/b62,b6/b63,b6/b64, b61/b611,b61/b612, b62/b621,b62/b622,
    b63/b631,b63/b632,b63/b633,b63/b634, b64/b641,b64/b642,b64/b643,
    b7/b71,b7/b72, b71/b711,b71/b712, b72/b721,b72/b722,
    b8/b80,b8/b81,b8/b82,b8/b83,b8/b84,b8/b85,b8/b86,b8/b87,
    b82/b821,b82/b822,b82/b823, b83/b831,b83/b832, b84/b841,b84/b842,b84/b843,
    b85/b851, b86/b861,b86/b862,b86/b863, b87/b871,
    c1/c11,c1/c12,c1/c13,c1/c14, c2/c21,c2/c22,c2/c23,c2/c24,
    c21/c211,c21/c212,c21/c213,c21/c214, c22/c221,c22/c222,c22/c223,c22/c225,
    c225/c2251,c225/c2252,c225/c2253, c23/c231,c23/c232,c23/c233,c23/c234,
    c232/c2321, c234/c2341, c24/c241,c24/c242,c24/c243, c241/c2411,
    c242/c2421,c242/c2422, c243/c2431,c243/c2432} {
  \draw[conn] (\p.south east) to[branch] (\c.south west);
  \draw[uline] (\c.south west) -- (\c.south east);
}

% fold marks
\foreach \n in {a1,a2,a3,a4,a5,a11,a12,a13,a14,a132,a133,a21,a22,a23,a24,a41,a42,a51,a52,a53,
    b1,b2,b3,b4,b5,b6,b7,b8,b31,b32,b33,b34,b51,b52,b53,b511,b512,b513,b521,b522,b523,
    b61,b62,b63,b64,b71,b72,b82,b83,b84,b85,b86,b87,
    c1,c2,c21,c22,c23,c24,c225,c232,c234,c241,c242,c243}
  \node[fold] (f\n) at ([xshift=9pt,yshift=13pt]\n.south east) {};
\node[fold] (fa111) at (1103,114) {};
\foreach \b in {gs,jc,sl} \node[fold] (f\b) at ([xshift=9pt]\b.east) {};
\end{tikzpicture}
\end{document}
